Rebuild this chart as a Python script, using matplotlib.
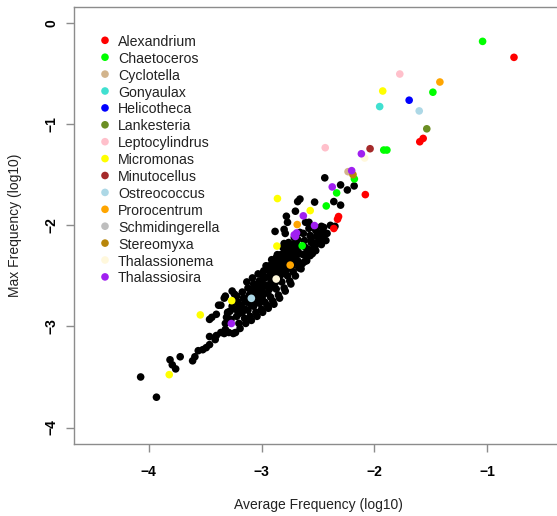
import matplotlib.pyplot as plt

plt.rcParams["font.family"] = ["Liberation Sans", "DejaVu Sans"]

taxa = [
    "Alexandrium", "Chaetoceros", "Cyclotella", "Gonyaulax", "Helicotheca",
    "Lankesteria", "Leptocylindrus", "Micromonas", "Minutocellus", "Ostreococcus",
    "Prorocentrum", "Schmidingerella", "Stereomyxa", "Thalassionema", "Thalassiosira",
]
taxa_colors = [
    "#FF0000", "#00FF00", "#D2B48C", "#40E0D0", "#0000FF",
    "#6B8E23", "#FFC0CB", "#FFFF00", "#A52A2A", "#ADD8E6",
    "#FFA500", "#BEBEBE", "#B8860B", "#FFF8DC", "#A020F0",
]

# highlighted taxa points (log10 average, log10 max)
hl_taxon = (
    ["Alexandrium"] * 7 + ["Chaetoceros"] * 8 + ["Cyclotella", "Gonyaulax", "Helicotheca",
    "Lankesteria"] + ["Leptocylindrus"] * 2 + ["Micromonas"] * 7 + ["Minutocellus"]
    + ["Ostreococcus"] * 2 + ["Prorocentrum"] * 3 + ["Stereomyxa"] + ["Thalassionema"] * 2
    + ["Thalassiosira"] * 9
)
hl_avg = [
    -0.765, -1.569, -1.599, -2.081, -2.318, -2.327, -2.360,
    -1.043, -1.483, -1.918, -1.890, -2.178, -2.335, -2.427, -2.640,
    -2.234, -1.954, -1.693, -1.537,
    -1.776, -2.436,
    -1.927, -2.859, -2.569, -2.864, -3.264, -3.542, -3.817,
    -2.039,
    -1.604, -3.090,
    -1.421, -2.684, -2.746,
    -2.190,
    -2.087, -2.870,
    -2.116, -2.202, -2.374, -2.630, -2.531, -2.710, -2.690, -2.700, -3.267,
]
hl_max = [
    -0.338, -1.140, -1.173, -1.696, -1.913, -1.939, -2.031,
    -0.180, -0.683, -1.255, -1.255, -1.541, -1.679, -1.808, -2.202,
    -1.469, -0.825, -0.762, -1.045,
    -0.503, -1.232,
    -0.671, -1.735, -1.854, -2.205, -2.745, -2.886, -3.477,
    -1.242,
    -0.868, -2.722,
    -0.582, -1.992, -2.393,
    -1.499,
    -1.334, -2.531,
    -1.292, -1.459, -1.620, -1.906, -2.002, -2.094, -2.075, -2.110, -2.971,
]

# all other taxa (black)
other_avg = [
    -4.07, -3.93, -3.81, -3.79, -3.76, -3.72, -3.61, -3.59, -3.56, -3.52, -3.49, -3.46,
    -3.46, -3.41, -3.40, -3.36, -3.33, -3.32, -3.29, -3.25, -3.23, -3.46, -3.44, -3.40,
    -3.36, -3.32, -3.24, -3.30, -3.26, -3.38, -3.33,
    -3.32, -3.31, -3.30, -3.27, -3.28, -3.26,
    -3.22, -3.23, -3.21, -3.22, -3.17, -3.18, -3.16, -3.17,
    -3.12, -3.13, -3.11, -3.12, -3.13, -3.07, -3.08, -3.06, -3.07, -3.08,
    -3.02, -3.03, -3.01, -3.02, -3.03, -2.97, -2.98, -2.96, -2.97, -2.98, -2.96,
    -2.92, -2.93, -2.91, -2.92, -2.93, -2.91, -2.87, -2.88, -2.86, -2.87, -2.88, -2.86,
    -2.82, -2.83, -2.81, -2.82, -2.83, -2.81, -2.77, -2.78, -2.76, -2.77, -2.78, -2.76,
    -2.72, -2.73, -2.71, -2.72, -2.73, -2.71, -2.67, -2.68, -2.66, -2.67, -2.68, -2.66,
    -2.62, -2.63, -2.61, -2.62, -2.63, -2.57, -2.58, -2.56, -2.57, -2.58,
    -2.52, -2.53, -2.51, -2.52, -2.47, -2.48, -2.46, -2.43, -2.42,
    -2.88, -2.80, -2.77, -2.61, -2.51, -2.45, -2.68, -2.66, -2.53, -2.78, -2.70, -2.79,
    -2.58, -2.47, -2.50, -2.56, -2.39, -2.36, -2.30, -2.24, -2.18, -2.44, -2.80, -2.77,
    -2.72, -2.59, -2.53, -2.48, -2.87, -2.35, -2.30,
    # lower edge of the dense band
    -3.20, -3.19, -3.15, -3.14, -3.10, -3.09, -3.05, -3.04, -3.00, -2.99, -2.95, -2.94,
    -2.90, -2.89, -2.85, -2.84, -2.80, -2.79, -2.75, -2.74, -2.70, -2.65, -2.64, -2.60,
    -2.59, -2.55, -2.54, -2.50, -2.49, -2.45,
    # interior fill
    -3.195, -3.195, -3.145, -3.145, -3.095, -3.095, -3.095, -3.045, -3.045, -3.045,
    -2.995, -2.995, -2.995, -2.995, -2.945, -2.945, -2.945, -2.945, -2.895, -2.895,
    -2.895, -2.895, -2.845, -2.845, -2.845, -2.845, -2.795, -2.795, -2.795, -2.795,
    -2.745, -2.745, -2.745, -2.745, -2.695, -2.695, -2.695, -2.695,
]
other_max = [
    -3.50, -3.70, -3.33, -3.38, -3.42, -3.30, -3.34, -3.30, -3.24, -3.23, -3.21, -3.18,
    -3.10, -3.13, -3.09, -3.06, -3.07, -3.03, -3.06, -3.07, -3.06, -2.93, -2.91, -2.88,
    -2.79, -2.70, -2.68, -2.87, -2.65, -2.79, -2.72,
    -2.97, -2.91, -2.86, -2.93, -2.85, -2.80,
    -2.90, -2.83, -2.76, -2.70, -2.86, -2.79, -2.72, -2.66,
    -2.84, -2.76, -2.69, -2.62, -2.56, -2.80, -2.72, -2.65, -2.58, -2.52,
    -2.77, -2.69, -2.62, -2.55, -2.48, -2.76, -2.68, -2.60, -2.52, -2.45, -2.40,
    -2.71, -2.63, -2.55, -2.47, -2.40, -2.34, -2.63, -2.57, -2.49, -2.42, -2.35, -2.29,
    -2.56, -2.49, -2.43, -2.36, -2.29, -2.22, -2.50, -2.44, -2.38, -2.31, -2.24, -2.17,
    -2.46, -2.40, -2.33, -2.26, -2.19, -2.12, -2.42, -2.35, -2.28, -2.21, -2.14, -2.07,
    -2.36, -2.29, -2.22, -2.15, -2.08, -2.30, -2.24, -2.17, -2.10, -2.03,
    -2.25, -2.18, -2.11, -2.05, -2.19, -2.12, -2.06, -2.15, -2.08,
    -2.06, -2.04, -1.97, -1.97, -2.10, -2.02, -1.765, -1.74, -1.77, -1.91, -1.86, -2.08,
    -1.97, -2.01, -2.09, -2.13, -2.00, -1.765, -1.80, -1.65, -1.61, -1.53, -2.18, -2.24,
    -2.29, -2.26, -2.21, -2.15, -2.32, -2.01, -1.60,
    -2.97, -3.02, -2.92, -2.97, -2.90, -2.94, -2.86, -2.90, -2.83, -2.86, -2.79, -2.82,
    -2.75, -2.78, -2.69, -2.72, -2.62, -2.65, -2.55, -2.58, -2.50, -2.43, -2.38, -2.35,
    -2.30, -2.28, -2.23, -2.18, -2.13, -2.10,
    -2.80, -2.87, -2.75, -2.83, -2.70, -2.78, -2.64, -2.66, -2.74, -2.60,
    -2.64, -2.72, -2.56, -2.49, -2.59, -2.67, -2.51, -2.44, -2.52, -2.60,
    -2.44, -2.38, -2.46, -2.54, -2.39, -2.32, -2.40, -2.47, -2.33, -2.26,
    -2.35, -2.42, -2.28, -2.21, -2.30, -2.37, -2.23, -2.16,
]

fig = plt.figure(figsize=(5.57, 5.16), dpi=100)
ax = fig.add_axes([74 / 557, 1 - 443.7 / 516, (562 - 74) / 557, (443.7 - 7) / 516])

ax.scatter(other_avg, other_max, s=30, color="black", edgecolors="none", zorder=2)
cmap = dict(zip(taxa, taxa_colors))
ax.scatter(hl_avg, hl_max, s=30, c=[cmap[t] for t in hl_taxon], edgecolors="none", zorder=3)

ax.set_xlim(-4.66, -0.34)
ax.set_ylim(-4.16, 0.16)
ax.set_xticks([-4, -3, -2, -1])
ax.set_yticks([-4, -3, -2, -1, 0])
ax.set_xticklabels(["\u22124", "\u22123", "\u22122", "\u22121"], fontweight="bold", fontsize=10)
ax.set_yticklabels(["\u22124", "\u22123", "\u22122", "\u22121", "0"], fontweight="bold",
                   fontsize=10, rotation=90, va="center")
for sp in ax.spines.values():
    sp.set_color("#8c8c8c")
    sp.set_linewidth(1.0)
ax.tick_params(direction="out", length=6, width=1.0, color="#8c8c8c")
ax.tick_params(axis="x", pad=9)
ax.tick_params(axis="y", pad=5)

fig.text(318 / 557, 1 - 505 / 516, "Average Frequency (log10)", ha="center", va="center",
         fontsize=10, color="#222222")
fig.text(15 / 557, 1 - 225 / 516, "Max Frequency (log10)", ha="center", va="center",
         rotation=90, fontsize=10, color="#222222")

# legend drawn by hand to copy the R layout
for i, (name, col) in enumerate(zip(taxa, taxa_colors)):
    yy = 1 - (40.3 + i * 16.9) / 516
    ax.scatter([105 / 557], [yy], s=30, color=col, edgecolors="none",
               transform=fig.transFigure, clip_on=False, zorder=4)
    fig.text(118 / 557, yy, name, ha="left", va="center_baseline", fontsize=10.2,
             color="#222222")

fig.savefig("out.png", dpi=100)
